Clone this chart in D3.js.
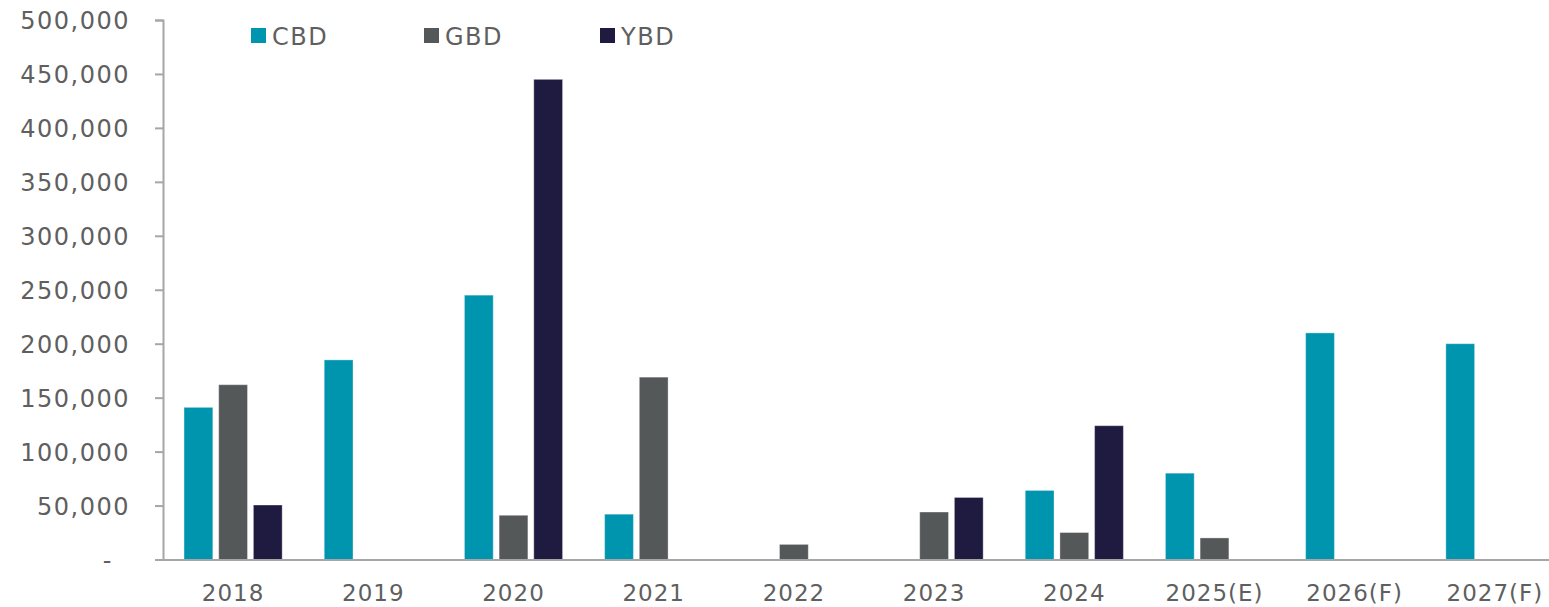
<!DOCTYPE html>
<html>
<head>
<meta charset="utf-8">
<script src="https://cdn.jsdelivr.net/npm/d3@7"></script>
<style>
  html, body { margin: 0; padding: 0; background: #fff; }
  svg { display: block; }
  text { font-family: "DejaVu Sans", sans-serif; fill: #5f5f5f; }
</style>
</head>
<body>
<div id="chart"></div>
<script>
// Categories (years) and series
const years = ["2018", "2019", "2020", "2021", "2022", "2023", "2024", "2025(E)", "2026(F)", "2027(F)"];
const seriesNames = ["CBD", "GBD", "YBD"];
const seriesColors = ["#0095AE", "#545859", "#1F1A40"];

// Values per series, one entry per year (0 = no supply)
const cbdValues = [141000, 185000, 245000, 42000, 0, 0, 64000, 80000, 210000, 200000];
const gbdValues = [162000, 0, 41000, 169000, 14000, 44000, 25000, 20000, 0, 0];
const ybdValues = [50500, 0, 445000, 0, 0, 57500, 124000, 0, 0, 0];

const yTicks = [0, 50000, 100000, 150000, 200000, 250000, 300000, 350000, 400000, 450000, 500000];

const width = 1549, height = 607;
const margin = { left: 163, top: 20, bottom: 47.5 };
const plotRight = margin.left + 1402;

const svg = d3.select("#chart").append("svg")
  .attr("width", width)
  .attr("height", height);

const x0 = d3.scaleBand()
  .domain(years)
  .range([margin.left, plotRight])
  .paddingInner(0.3)
  .paddingOuter(0.15);

const x1 = d3.scaleBand()
  .domain(seriesNames)
  .range([0, x0.bandwidth()])
  .paddingInner(0.17);

const y = d3.scaleLinear()
  .domain([0, 500000])
  .range([height - margin.bottom, margin.top]);

const rows = years.map((yr, i) => ({
  year: yr,
  values: [cbdValues[i], gbdValues[i], ybdValues[i]]
}));

// Bars
const groups = svg.append("g")
  .selectAll("g")
  .data(rows)
  .join("g")
  .attr("transform", d => `translate(${x0(d.year)},0)`);

groups.selectAll("rect")
  .data(d => d.values.map((v, k) => ({ key: seriesNames[k], value: v, color: seriesColors[k] })).filter(e => e.value > 0))
  .join("rect")
  .attr("x", d => x1(d.key))
  .attr("width", x1.bandwidth())
  .attr("y", d => y(d.value))
  .attr("height", d => y(0) - y(d.value))
  .attr("fill", d => d.color)
  .attr("stroke", "#ffffff")
  .attr("stroke-opacity", 0.35)
  .attr("stroke-width", 1);

// Y axis
const yAxis = d3.axisLeft(y)
  .tickValues(yTicks)
  .tickSize(8)
  .tickPadding(25)
  .tickFormat(d => d === 0 ? "-" : d3.format(",")(d));

const gy = svg.append("g")
  .attr("transform", `translate(${margin.left},0)`)
  .call(yAxis);

gy.select(".domain").attr("stroke", "#A6A6A6").attr("stroke-width", 2);
gy.selectAll(".tick line").attr("stroke", "#A6A6A6").attr("stroke-width", 2);
gy.selectAll(".tick text")
  .style("font-size", "24px")
  .style("letter-spacing", "1.5px")
  .attr("fill", "#5f5f5f")
  .attr("dy", "0.36em")
  .filter(d => d === 0)
  .attr("x", -50);

// X axis
const xAxis = d3.axisBottom(x0).tickSize(0).tickPadding(0);
const gx = svg.append("g")
  .attr("transform", `translate(0,${y(0)})`)
  .call(xAxis);

gx.select(".domain").attr("stroke", "#A6A6A6").attr("stroke-width", 2);
gx.selectAll(".tick text")
  .style("font-size", "23px")
  .style("letter-spacing", "1px")
  .attr("fill", "#5f5f5f")
  .attr("y", 41)
  .attr("dy", 0);

// Legend
const legendX = [251, 424, 600];
const legend = svg.append("g")
  .selectAll("g")
  .data(seriesNames)
  .join("g")
  .attr("transform", (d, i) => `translate(${legendX[i]},28)`);

legend.append("rect")
  .attr("width", 15)
  .attr("height", 15)
  .attr("fill", (d, i) => seriesColors[i]);

legend.append("text")
  .attr("x", 21)
  .attr("y", 17)
  .style("font-size", "24px")
  .style("letter-spacing", "1.5px")
  .text(d => d);
</script>
</body>
</html>
